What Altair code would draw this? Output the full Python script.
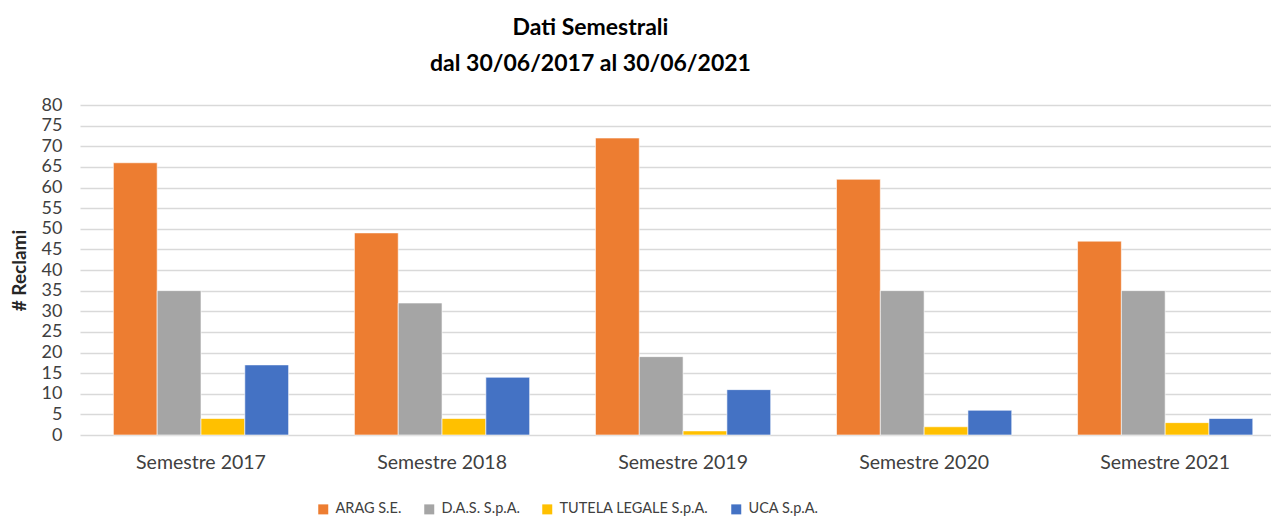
import altair as alt
import pandas as pd

categories = ["Semestre 2017", "Semestre 2018", "Semestre 2019", "Semestre 2020", "Semestre 2021"]
series = ["ARAG S.E.", "D.A.S. S.p.A.", "TUTELA LEGALE S.p.A.", "UCA S.p.A."]
arag = [66, 49, 72, 62, 47]
das = [35, 32, 19, 35, 35]
tutela = [4, 4, 1, 2, 3]
uca = [17, 14, 11, 6, 4]
colors = ["#ED7D31", "#A5A5A5", "#FFC000", "#4472C4"]

rows = []
for s, vals in zip(series, [arag, das, tutela, uca]):
    for c, v in zip(categories, vals):
        rows.append({"cat": c, "serie": s, "val": v})
df = pd.DataFrame(rows)

FONT = "Lato"

chart = alt.Chart(df).mark_bar(stroke="white", strokeWidth=0.6).encode(
    x=alt.X("cat:N", sort=categories, title=None,
            scale=alt.Scale(paddingInner=0.273, paddingOuter=0.107, align=0.647),
            axis=alt.Axis(labelAngle=0, labelFontSize=19.5, labelColor="#404040",
                          labelFont=FONT, ticks=False, domain=False, labelPadding=18)),
    xOffset=alt.XOffset("serie:N", sort=series),
    y=alt.Y("val:Q", title="# Reclami",
            scale=alt.Scale(domain=[0, 80], nice=False),
            axis=alt.Axis(values=list(range(0, 81, 5)), labelFontSize=18, labelColor="#404040",
                          labelFont=FONT, ticks=False, domain=False, labelPadding=18,
                          gridColor="#D9D9D9", gridWidth=1.6,
                          titleFont=FONT, titleFontSize=19, titleFontWeight="bold",
                          titleColor="#262626", titlePadding=12)),
    color=alt.Color("serie:N", sort=series,
                    scale=alt.Scale(domain=series, range=colors),
                    legend=alt.Legend(title=None, orient="none", direction="horizontal",
                                      legendX=236, legendY=397,
                                      symbolType="square", symbolSize=100, symbolStrokeWidth=0,
                                      labelFont=FONT, labelFontSize=14.5, labelColor="#404040",
                                      labelLimit=400,
                                      columnPadding=20, symbolOffset=0, labelOffset=5)),
).properties(
    width=1191, height=330,
    title=alt.TitleParams(["Dati Semestrali", "dal 30/06/2017 al 30/06/2021"],
                          font=FONT, fontSize=23, fontWeight="bold", color="#000000",
                          lineHeight=36, anchor="middle", dx=-85, offset=20),
    autosize=alt.AutoSizeParams(type="none"),
    padding={"left": 80, "top": 105, "right": 0, "bottom": 84},
).configure_view(stroke=None)

chart.save("out.html", embed_options={"renderer": "svg", "actions": False})
